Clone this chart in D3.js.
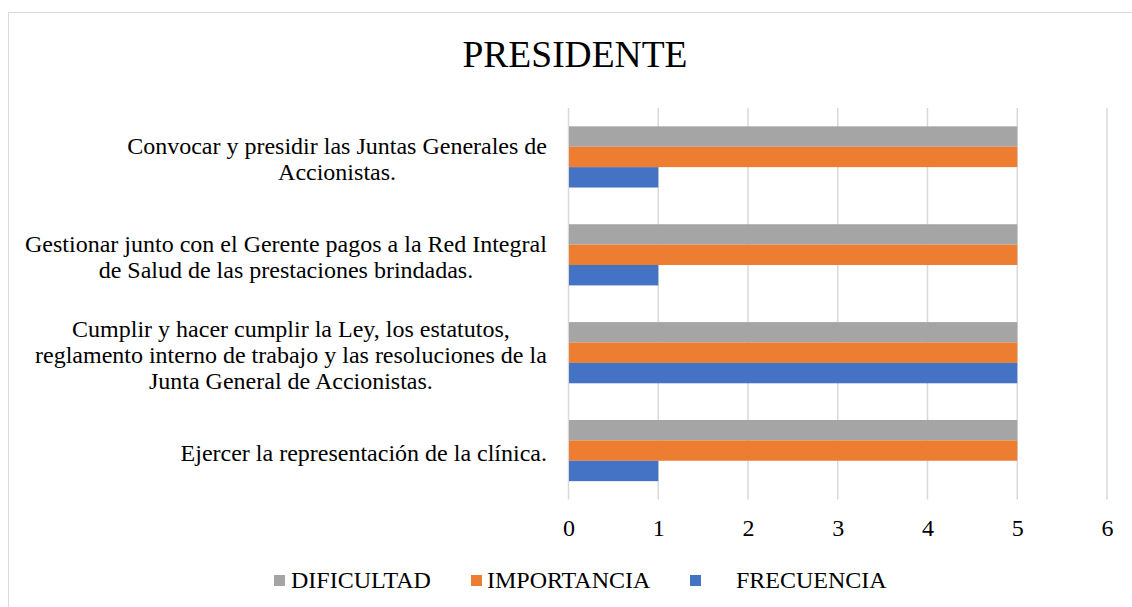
<!DOCTYPE html>
<html>
<head>
<meta charset="utf-8">
<script src="https://cdn.jsdelivr.net/npm/d3@7"></script>
<style>
  body { margin: 0; background: #fff; }
  text { font-family: "Liberation Serif", "Times New Roman", serif; fill: #000; }
</style>
</head>
<body>
<svg id="chart" width="1132" height="607"></svg>
<script>
// categories, top to bottom as shown
const categories = [
  ['Convocar y presidir las Juntas Generales de', 'Accionistas.'],
  ['Gestionar junto con el Gerente pagos a la Red Integral', 'de Salud de las prestaciones brindadas.'],
  ['Cumplir y hacer cumplir la Ley, los estatutos,', 'reglamento interno de trabajo y las resoluciones de la', 'Junta General de Accionistas.'],
  ['Ejercer la representación de la clínica.']
]
const seriesNames = ['DIFICULTAD', 'IMPORTANCIA', 'FRECUENCIA']
const dificultad = [5, 5, 5, 5]
const importancia = [5, 5, 5, 5]
const frecuencia = [1, 1, 5, 1]
const xTicks = [0, 1, 2, 3, 4, 5, 6]
const colors = ['#a5a5a5', '#ed7d31', '#4472c4']

const svg = d3.select('#chart')
const seriesValues = [dificultad, importancia, frecuencia]

// outer border
svg.append('rect')
  .attr('x', 8.5).attr('y', 12.5)
  .attr('width', 1140).attr('height', 620)
  .attr('fill', 'none').attr('stroke', '#d9d9d9').attr('stroke-width', 1)

svg.append('text')
  .attr('x', 575).attr('y', 67)
  .attr('text-anchor', 'middle')
  .style('font-size', '37.5px')
  .text('PRESIDENTE')

const x = d3.scaleLinear().domain([0, 6]).range([568.5, 1107])
const y = d3.scaleBand().domain(d3.range(categories.length)).range([108, 499.5])
  .paddingInner(0.375).paddingOuter(0.1875)
const ySub = d3.scaleBand().domain(d3.range(seriesNames.length)).range([0, y.bandwidth()])

// gridlines
svg.append('g')
  .selectAll('line')
  .data(xTicks)
  .enter().append('line')
  .attr('x1', d => x(d)).attr('x2', d => x(d))
  .attr('y1', 108).attr('y2', 499.5)
  .attr('stroke', '#d9d9d9').attr('stroke-width', 1.5)

// bars
const groups = svg.append('g')
  .selectAll('g')
  .data(categories)
  .enter().append('g')
  .attr('transform', (d, i) => `translate(0,${y(i)})`)

groups.selectAll('rect')
  .data((d, i) => seriesValues.map((vals, s) => ({s, v: vals[i]})))
  .enter().append('rect')
  .attr('x', x(0) + 0.5)
  .attr('y', d => ySub(d.s))
  .attr('width', d => x(d.v) - x(0) - 0.5)
  .attr('height', ySub.bandwidth())
  .attr('fill', d => colors[d.s])

// x axis labels
const xAxis = svg.append('g')
  .attr('transform', 'translate(0,499.5)')
  .call(d3.axisBottom(x).tickValues(xTicks).tickSize(0).tickFormat(d3.format('d')))
xAxis.select('.domain').remove()
xAxis.selectAll('text')
  .attr('y', 36).attr('dy', null)
  .style('font-size', '24px')
  .style('font-family', '"Liberation Serif", "Times New Roman", serif')
  .attr('fill', '#000')

// category labels (centered multi-line blocks, right edge at 547)
const lineH = 26
categories.forEach((lines, i) => {
  const cy = y(i) + y.bandwidth() / 2
  const t = svg.append('text')
    .attr('text-anchor', 'middle')
    .style('font-size', '24px')
  lines.forEach((ln, k) => {
    t.append('tspan')
      .attr('x', 0)
      .attr('y', cy + (k - (lines.length - 1) / 2) * lineH + 10)
      .text(ln)
  })
  const w = t.node().getBBox().width
  t.selectAll('tspan').attr('x', 547 - w / 2)
})

// legend
const legendX = [274, 471, 690]
const textX = [291, 487, 736]
const legend = svg.append('g')
seriesNames.forEach((name, i) => {
  legend.append('rect')
    .attr('x', legendX[i]).attr('y', 575)
    .attr('width', 11).attr('height', 11)
    .attr('fill', colors[i])
  legend.append('text')
    .attr('x', textX[i]).attr('y', 588)
    .style('font-size', '24px')
    .text(name)
})
</script>
</body>
</html>
